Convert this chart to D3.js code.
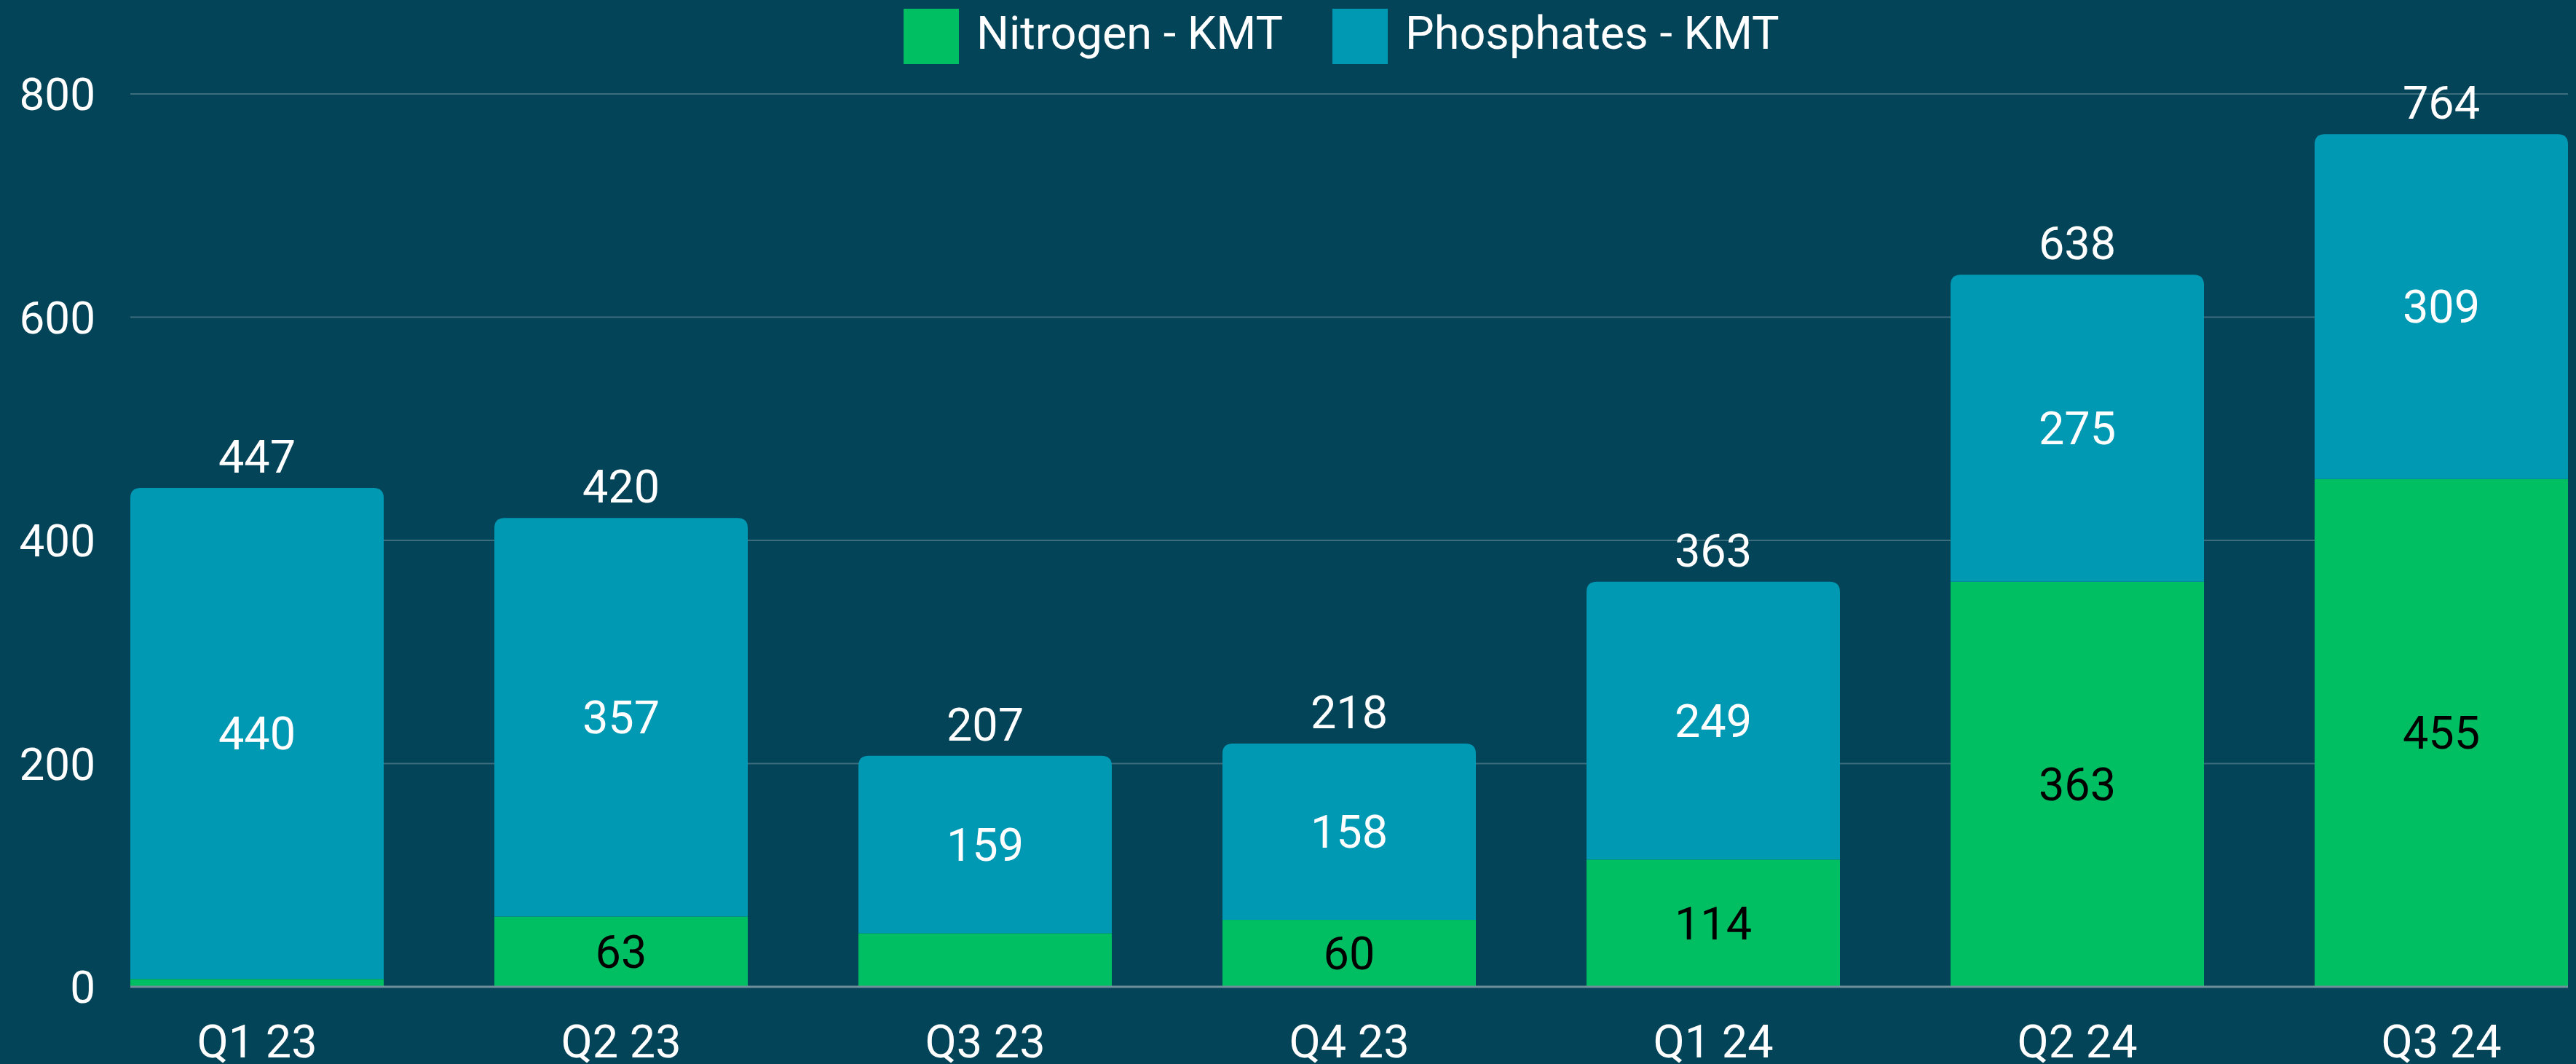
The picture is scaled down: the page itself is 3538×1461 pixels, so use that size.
<!DOCTYPE html>
<html>
<head>
<meta charset="utf-8">
<script src="https://cdn.jsdelivr.net/npm/d3@7"></script>
<style>
  html, body { margin: 0; padding: 0; background: #044458; }
  svg { display: block; }
  text { font-family: Roboto, "Noto Sans", sans-serif; }
</style>
</head>
<body>
<svg id="chart" width="3538" height="1461"></svg>
<script>
const categories = ["Q1 23", "Q2 23", "Q3 23", "Q4 23", "Q1 24", "Q2 24", "Q3 24"];
const nitrogen = [7, 63, 48, 60, 114, 363, 455];
const phosphates = [440, 357, 159, 158, 249, 275, 309];
const totals = [447, 420, 207, 218, 363, 638, 764];
const nitrogenLabelShown = [false, true, false, true, true, true, true];
const yTicks = [0, 200, 400, 600, 800];
const seriesNames = ["Nitrogen - KMT", "Phosphates - KMT"];
const colors = ["#00BE62", "#0099B4"];

const W = 3538, H = 1461;
const svg = d3.select("#chart");
svg.append("rect").attr("width", W).attr("height", H).attr("fill", "#044458");

const x = d3.scaleBand().domain(categories).range([179, 3527]).paddingInner(0.304).paddingOuter(0);
const y = d3.scaleLinear().domain([0, 800]).range([1355, 129]);

// gridlines
svg.append("g").selectAll("line").data(yTicks.filter(d => d > 0)).join("line")
  .attr("x1", 179).attr("x2", 3527)
  .attr("y1", d => y(d)).attr("y2", d => y(d))
  .attr("stroke", "rgba(255,255,255,0.22)").attr("stroke-width", 2);

// y axis
const yAxis = d3.axisLeft(y).tickValues(yTicks).tickSize(0).tickPadding(0);
const gy = svg.append("g").attr("transform", "translate(131,0)").call(yAxis);
gy.select(".domain").remove();
gy.selectAll("text").attr("fill", "#ffffff").attr("font-size", 62).attr("font-family", "Roboto").attr("dy", "0.35em");

const data = categories.map((c, i) => ({ c, n: nitrogen[i], p: phosphates[i], t: totals[i], show: nitrogenLabelShown[i] }));

// nitrogen bars
svg.append("g").selectAll("rect").data(data).join("rect")
  .attr("x", d => x(d.c)).attr("width", x.bandwidth())
  .attr("y", d => y(d.n)).attr("height", d => y(0) - y(d.n))
  .attr("fill", colors[0]);

// phosphate bars with rounded top corners
const r = 14;
svg.append("g").selectAll("path").data(data).join("path")
  .attr("d", d => {
    const x0 = x(d.c), x1 = x0 + x.bandwidth();
    const yt = y(d.n + d.p), yb = y(d.n);
    return `M${x0},${yb} L${x0},${yt + r} Q${x0},${yt} ${x0 + r},${yt} L${x1 - r},${yt} Q${x1},${yt} ${x1},${yt + r} L${x1},${yb} Z`;
  })
  .attr("fill", colors[1]);

// baseline
svg.append("line").attr("x1", 179).attr("x2", 3527).attr("y1", y(0)).attr("y2", y(0))
  .attr("stroke", "#6f8f9b").attr("stroke-width", 3);

const fs = 63;
// nitrogen labels
svg.append("g").selectAll("text").data(data.filter(d => d.show)).join("text")
  .attr("x", d => x(d.c) + x.bandwidth() / 2)
  .attr("y", d => (y(0) + y(d.n)) / 2)
  .attr("dy", "0.35em").attr("text-anchor", "middle")
  .attr("font-size", fs).attr("fill", "#000000")
  .text(d => d.n);

// phosphate labels
svg.append("g").selectAll("text").data(data).join("text")
  .attr("x", d => x(d.c) + x.bandwidth() / 2)
  .attr("y", d => (y(d.n) + y(d.n + d.p)) / 2)
  .attr("dy", "0.35em").attr("text-anchor", "middle")
  .attr("font-size", fs).attr("fill", "#ffffff")
  .text(d => d.p);

// totals
svg.append("g").selectAll("text").data(data).join("text")
  .attr("x", d => x(d.c) + x.bandwidth() / 2)
  .attr("y", d => y(d.t) - 21)
  .attr("text-anchor", "middle")
  .attr("font-size", fs).attr("fill", "#ffffff")
  .text(d => d.t);

// x axis
const xAxis = d3.axisBottom(x).tickSize(0).tickPadding(0);
const gx = svg.append("g").attr("transform", "translate(0,1452)").call(xAxis);
gx.select(".domain").remove();
gx.selectAll("text").attr("fill", "#ffffff").attr("font-size", fs).attr("font-family", "Roboto").attr("dy", 0);

// legend
const legend = svg.append("g");
const legendItems = [{ name: seriesNames[0], color: colors[0], x: 1241, tx: 1341 }, { name: seriesNames[1], color: colors[1], x: 1830, tx: 1930 }];
legendItems.forEach(it => {
  legend.append("rect").attr("x", it.x).attr("y", 12).attr("width", 76).attr("height", 76).attr("fill", it.color);
  legend.append("text").attr("x", it.tx).attr("y", 67).attr("font-size", fs).attr("fill", "#ffffff").text(it.name);
});
</script>
</body>
</html>
